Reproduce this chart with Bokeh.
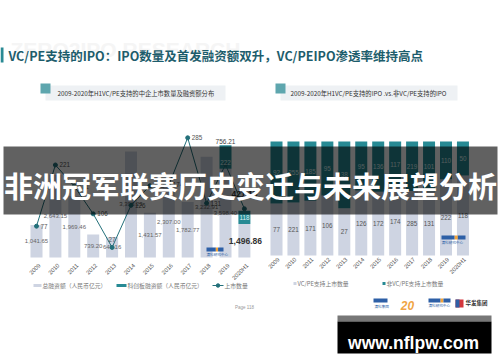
import numpy as np
from bokeh.plotting import figure
from bokeh.models import Range1d, ColumnDataSource
from bokeh.embed import file_html
from bokeh.resources import INLINE
from bokeh.core.properties import value

# ---------------- data ----------------
years = ["2009", "2010", "2011", "2012", "2013", "2014", "2015", "2016",
         "2017", "2018", "2019", "2020H1"]
total_financing = [1041.65, 2643.15, 1969.46, 739.20, 648.16, 3398.23,
                   1431.57, 2307.00, 1782.77, 3232.91, 3598.40, 1496.86]
star_financing = [0, 0, 0, 0, 0, 0, 0, 0, 0, 0, 756.21, 421.15]
ipo_count = [77, 221, 171, 106, 27, 126, 172, 174, 285, 131, 222, 118]
vcpe_ipo = [77, 221, 171, 106, 27, 126, 172, 174, 285, 131, 222, 118]
non_vcpe_ipo = [92, 255, 185, 95, 38, 95, 136, 117, 219, 101, 110, 50]

title = "VC/PE支持的IPO：IPO数量及首发融资额双升，VC/PEIPO渗透率维持高点"
sub_left = "2009-2020年H1VC/PE支持的中企上市数量及融资额分布"
sub_right = "2009-2020年H1VC/PE支持的IPO .vs.非VC/PE支持的IPO"
legend_left = ["总融资额（人民币亿元）", "科创板融资额（人民币亿元）", "上市数量"]
legend_right = ["VC/PE支持上市数量", "非VC/PE支持上市数量"]
banner_text = "非洲冠军联赛历史变迁与未来展望分析"
site_text = "www.nflpw.com"

# ---------------- layout ----------------
PX0, PX1, PY0, PY1 = 0, 500, 0, 362
CJK = value("Noto Sans CJK SC")
NUM = value("Liberation Sans")
GREY = "#ced4e2"
TEAL = "#278a94"
LINE = "#23707a"


def x_range_for(c0, step):
    return Range1d((PX0 - c0) / step, (PX1 - c0) / step)


def y_range_for(base, ppu):
    return Range1d((base - PY1) / ppu, (base - PY0) / ppu)


p = figure(width=PX1 - PX0, height=PY1 - PY0,
           x_range=Range1d(PX0, PX1), y_range=Range1d(PY1, PY0),
           output_backend="svg", toolbar_location=None,
           x_axis_location=None, y_axis_location=None, min_border=0)
p.grid.visible = False
p.outline_line_color = None
p.background_fill_color = "white"
p.border_fill_color = "white"

LSTEP, RSTEP = 18.9, 16.95
p.extra_x_ranges = {"L": x_range_for(36, LSTEP), "R": x_range_for(276, RSTEP)}
p.extra_y_ranges = {"Lamt": y_range_for(257, 0.0312),
                    "Lcnt": y_range_for(258.4, 0.425),
                    "Rpct": y_range_for(255, 114)}

idx = np.arange(len(years))
tot = np.array(total_financing)
star = np.array(star_financing)
grey_top = tot - star

# ---------------- header ----------------
p.text(x=[10], y=[49], text=["ZERO2IPO RESEARCH"], text_font=NUM,
       text_font_style="bold", text_font_size="21px", text_color="#f5f5f5",
       text_baseline="middle")
p.quad(left=[0], right=[3], top=[47], bottom=[62], fill_color="#2a8a94", line_color=None)
p.text(x=[8], y=[55], text=[title], text_font=CJK, text_font_style="bold",
       text_font_size="12.5px", text_color="#1d5d6c", text_baseline="middle")

for bx0, bx1, sq, tx, txt in [(45, 225, 40, 57, sub_left), (280, 457, 275, 290, sub_right)]:
    p.quad(left=[bx0], right=[bx1], top=[85], bottom=[100], fill_color="#eef1f4", line_color=None)
    p.quad(left=[sq], right=[sq + 10], top=[83], bottom=[93], fill_color="#5ea6ae", line_color=None)
    p.text(x=[tx], y=[92.5], text=[txt], text_font=CJK, text_font_size="6.3px",
           text_color="#333333", text_baseline="middle")

# ---------------- left chart ----------------
wL = 12 / LSTEP
p.vbar(x=idx, width=wL, bottom=0, top=grey_top, fill_color=GREY, line_color=None,
       x_range_name="L", y_range_name="Lamt")
p.vbar(x=idx, width=wL, bottom=grey_top, top=tot, fill_color=TEAL, line_color=None,
       x_range_name="L", y_range_name="Lamt")

lab = ColumnDataSource(dict(x=idx[:-1], y=grey_top[:-1] / 2,
                            t=[f"{v:,.2f}" for v in total_financing[:-1]]))
p.text(x="x", y="y", text="t", source=lab, text_font=NUM, text_font_size="6px",
       text_color="#666666", text_align="center", text_baseline="middle",
       x_range_name="L", y_range_name="Lamt")
p.text(x=[idx[-1]], y=[grey_top[-1] / 2], text=[f"{total_financing[-1]:,.2f}"],
       text_font=NUM, text_font_size="8.5px", text_font_style="bold",
       text_color="#333333", text_align="center", text_baseline="middle",
       x_range_name="L", y_range_name="Lamt", x_offset=1)
p.text(x=[idx[-2]], y=[tot[-2]], text=[f"{star_financing[-2]:,.2f}"],
       text_font=NUM, text_font_size="6.5px", text_color="#444444",
       text_align="center", text_baseline="bottom", y_offset=-1,
       x_range_name="L", y_range_name="Lamt")
p.text(x=[idx[-1]], y=[tot[-1]], text=[f"{star_financing[-1]:,.2f}"],
       text_font=NUM, text_font_size="8.5px", text_font_style="bold",
       text_color="#333333", text_align="center", text_baseline="bottom",
       y_offset=-14, x_range_name="L", y_range_name="Lamt")

p.line(x=idx, y=ipo_count, line_color=LINE, line_width=1,
       x_range_name="L", y_range_name="Lcnt")
p.scatter(x=idx, y=ipo_count, size=4, fill_color=LINE, line_color=LINE,
          x_range_name="L", y_range_name="Lcnt")
side = [0, 1, 2, 3, 5, 6, 7, 8, 9]
p.text(x=idx[side], y=np.array(ipo_count)[side], text=[str(ipo_count[i]) for i in side],
       text_font=NUM, text_font_size="6.3px", text_color="#555555",
       text_baseline="middle", x_offset=4, x_range_name="L", y_range_name="Lcnt")
p.text(x=[idx[4]], y=[ipo_count[4]], text=[str(ipo_count[4])], text_font=NUM,
       text_font_size="6.3px", text_color="#555555", text_align="center",
       text_baseline="middle", y_offset=-8, x_range_name="L", y_range_name="Lcnt")
p.text(x=[idx[10]], y=[ipo_count[10]], text=[str(ipo_count[10])], text_font=NUM,
       text_font_size="6.3px", text_color="#d8eef0", text_align="center",
       text_baseline="middle", y_offset=-2, x_range_name="L", y_range_name="Lcnt")
p.text(x=[idx[11]], y=[ipo_count[11]], text=[str(ipo_count[11])], text_font=NUM,
       text_font_size="6.3px", text_color="#d8eef0", text_align="center",
       text_baseline="middle", y_offset=9, x_range_name="L", y_range_name="Lcnt")

p.text(x=idx, y=[264] * len(idx), text=years, text_font=NUM, text_font_size="5.8px",
       text_color="#555555", text_align="right", text_baseline="middle",
       angle=np.pi / 4, x_offset=3, x_range_name="L")

# left legend
p.quad(left=[33], right=[41], top=[283.5], bottom=[286.5], fill_color=GREY, line_color=None)
p.quad(left=[116], right=[126], top=[283.5], bottom=[286.5], fill_color=TEAL, line_color=None)
p.line(x=[212, 223], y=[285, 285], line_color=LINE, line_width=1)
p.scatter(x=[217.5], y=[285], size=3.5, fill_color=LINE, line_color=LINE)
for x0, t in zip([42, 127, 224], legend_left):
    p.text(x=[x0], y=[285], text=[t], text_font=CJK, text_font_size="5.8px",
           text_color="#777777", text_baseline="middle")

# ---------------- right chart ----------------
vc = np.array(vcpe_ipo, dtype=float)
nv = np.array(non_vcpe_ipo, dtype=float)
share_vc = vc / (vc + nv)
wR = 12 / RSTEP
p.vbar(x=idx, width=wR, bottom=0, top=share_vc, fill_color=GREY, line_color=None,
       x_range_name="R", y_range_name="Rpct")
p.vbar(x=idx, width=wR, bottom=share_vc, top=1, fill_color=TEAL, line_color=None,
       x_range_name="R", y_range_name="Rpct")
p.text(x=idx, y=share_vc / 2, text=[str(v) for v in vcpe_ipo], text_font=NUM,
       text_font_size="6.3px", text_color="#555555", text_align="center",
       text_baseline="middle", x_range_name="R", y_range_name="Rpct")
p.text(x=idx, y=(1 + share_vc) / 2, text=[str(v) for v in non_vcpe_ipo], text_font=NUM,
       text_font_size="6.3px", text_color="#d8eef0", text_align="center",
       text_baseline="middle", x_range_name="R", y_range_name="Rpct")
p.text(x=idx, y=[258] * len(idx), text=years, text_font=NUM, text_font_size="5.8px",
       text_color="#555555", text_align="right", text_baseline="middle",
       angle=np.pi / 4, x_offset=2, x_range_name="R")

# right legend
p.quad(left=[293], right=[296], top=[281.5], bottom=[284.5], fill_color=GREY, line_color=None)
p.quad(left=[382], right=[385], top=[281.5], bottom=[284.5], fill_color=TEAL, line_color=None)
for x0, t in zip([297, 386], legend_right):
    p.text(x=[x0], y=[283], text=[t], text_font=CJK, text_font_size="5.8px",
           text_color="#777777", text_baseline="middle")

# ---------------- small logos ----------------
def logo(x0, y0, w):
    p.quad(left=[x0], right=[x0 + w * 0.55], top=[y0], bottom=[y0 + 4], fill_color="#2d5fa6", line_color=None)
    p.quad(left=[x0 + w * 0.55], right=[x0 + w * 0.68], top=[y0], bottom=[y0 + 4], fill_color="#f2a33a", line_color=None)
    p.quad(left=[x0 + w * 0.68], right=[x0 + w], top=[y0], bottom=[y0 + 4], fill_color="#2d5fa6", line_color=None)
    p.text(x=[x0], y=[y0 + 7], text=["清科研究中心"], text_font=CJK, text_font_size="3.6px",
           text_color="#2d5fa6", text_baseline="middle")

logo(206, 247, 17)
logo(441, 235, 24)
logo(428, 298, 22)
p.quad(left=[373], right=[387], top=[298], bottom=[302], fill_color="#2d5fa6", line_color=None)
p.text(x=[374], y=[306], text=["清科集团"], text_font=CJK, text_font_size="3.6px",
       text_color="#2d5fa6", text_baseline="middle")
p.text(x=[407], y=[305], text=["20"], text_font=NUM, text_font_size="12px",
       text_font_style="bold italic", text_color="#f0a545", text_align="center",
       text_baseline="middle")
p.quad(left=[455], right=[463], top=[299], bottom=[307], fill_color="#d4373c", line_color=None)
p.quad(left=[455], right=[459], top=[299], bottom=[307], fill_color="#2d5fa6", line_color=None)
p.text(x=[465], y=[302], text=["华发集团"], text_font=CJK, text_font_size="5.5px",
       text_font_style="bold", text_color="#333333", text_baseline="middle")
p.text(x=[244], y=[307], text=["Page 118"], text_font=NUM, text_font_size="4.5px",
       text_color="#999999", text_align="center", text_baseline="middle")

# ---------------- overlays ----------------
p.quad(left=[3], right=[497], top=[146], bottom=[214], fill_color="black",
       fill_alpha=0.62, line_color=None)
p.text(x=[250], y=[184], text=[banner_text], text_font=CJK, text_font_style="bold",
       text_font_size="29px", text_color="white", text_align="center",
       text_baseline="middle")

p.quad(left=[337], right=[491], top=[315], bottom=[321], fill_color="#777777", line_color=None)
p.quad(left=[337], right=[491], top=[321], bottom=[353], fill_color="black", line_color=None)
p.text(x=[413], y=[342], text=[site_text], text_font=NUM, text_font_style="bold",
       text_font_size="17.5px", text_color="white", text_align="center",
       text_baseline="alphabetic")

open("out.html", "w").write(file_html(p, INLINE))
